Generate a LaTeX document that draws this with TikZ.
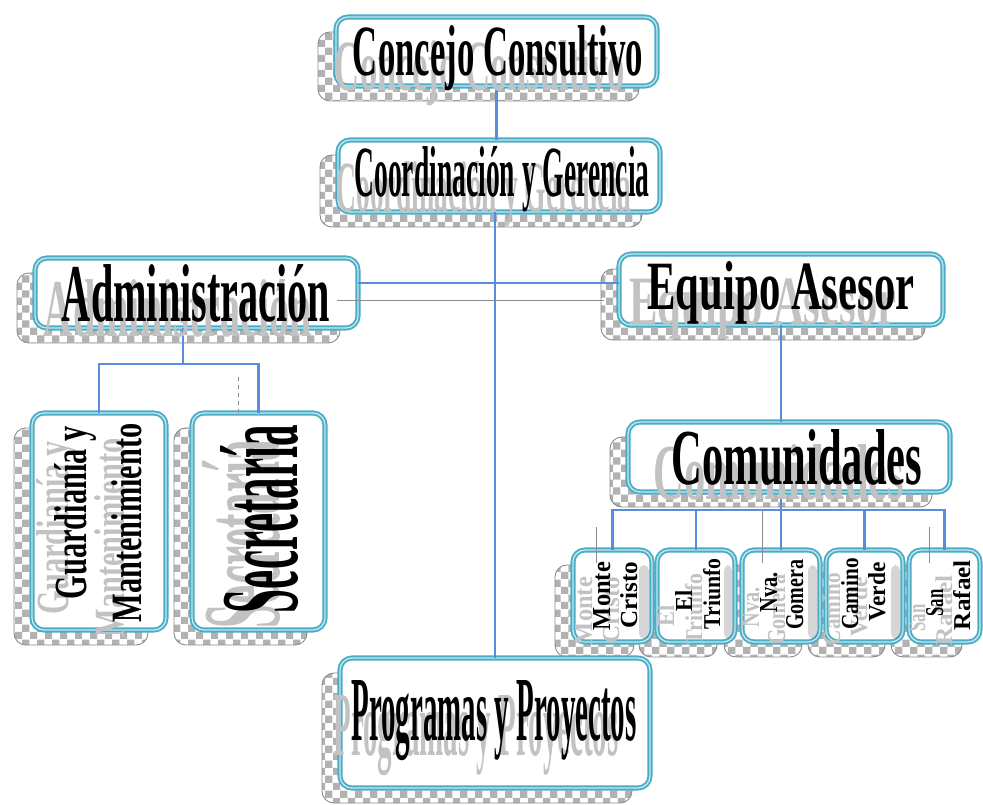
\documentclass[tikz,border=0pt]{standalone}
\usepackage{fontspec}
\setmainfont{Liberation Serif}
\usepackage{graphicx}
\usetikzlibrary{backgrounds,patterns}
\definecolor{boxblue}{RGB}{75,172,198}
\definecolor{boxinner}{RGB}{195,232,242}
\definecolor{connblue}{RGB}{88,140,222}
\newlength\upx \setlength\upx{0.75pt}
\newcommand\fitT[3]{\resizebox{#1\upx}{#2\upx}{\bfseries #3}}
\newcommand\ghostlbl[7]{\node[ghosttxt,rotate=#6] (#1-g) at (#2-18,#3+15) {\fitT{#4}{#5}{#7}};}
\newcommand\mainlbl[7]{\node[maintxt,rotate=#6] (#1) at (#2,#3) {\fitT{#4}{#5}{#7}};}
\newcommand\alllabels[1]{%
  #1{cct}{498}{76}{290}{50}{0}{Concejo Consultivo}
  #1{cgt}{502}{197}{295}{50}{0}{Coordinación y Gerencia}
  #1{admt}{196}{322}{268}{57}{0}{Administración}
  #1{eqt}{781}{310}{267}{48}{0}{Equipo Asesor}
  #1{comt}{797}{485}{251}{55}{0}{Comunidades}
  #1{ppt}{494}{740}{285}{60}{0}{Programas y Proyectos}
  #1{gmta}{87}{513}{173}{32}{90}{Guardianía y}
  #1{gmtb}{142}{523}{199}{30}{90}{Mantenimiento}
  #1{sect}{297}{519}{188}{77}{90}{Secretaría}
  #1{mcta}{610}{596}{68}{17}{90}{Monte}
  #1{mctb}{637}{595}{67}{17}{90}{Cristo}
  #1{etta}{692}{601}{21}{17}{90}{El}
  #1{ettb}{720}{594}{71}{17}{90}{Triunfo}
  #1{ngta}{777}{592}{40}{17}{90}{Nva.}
  #1{ngtb}{803}{595}{70}{17}{90}{Gomera}
  #1{cvta}{858}{594}{72}{17}{90}{Camino}
  #1{cvtb}{885}{592}{59}{17}{90}{Verde}
  #1{srta}{943}{603}{27}{17}{90}{San}
  #1{srtb}{970}{595}{70}{17}{90}{Rafael}
}
\newcommand\mkbox[5]{\node[orgbox, minimum width=#4\upx, minimum height=#5\upx] (#1) at (#2,#3) {};}
\tikzset{
  orgbox/.style={draw=boxblue, line width=1.4pt, double=boxinner, double distance=1pt,
    fill=white, rounded corners=9pt, inner sep=0pt, outer sep=0pt},
  shadowbox/.style={pattern=checkerboard, pattern color=black!30, draw=black!45,
    line width=0.7pt, rounded corners=9pt},
  conn/.style={draw=connblue, line width=1.6pt},
  gline/.style={draw=black!45, line width=0.6pt},
  band/.style={fill=black, fill opacity=0.16, rounded corners=4pt},
  ghosttxt/.style={text=black!24, inner sep=0pt, anchor=base},
  maintxt/.style={text=black, inner sep=0pt, anchor=base},
}
\begin{document}
\begin{tikzpicture}[x=0.75pt,y=-0.75pt]
\useasboundingbox (0,0) rectangle (983,805);
% boxes
\mkbox{cc}{496.5}{51.5}{321}{69}
\mkbox{cg}{499}{176}{322}{72}
\mkbox{adm}{196.5}{293}{323}{70}
\mkbox{eq}{781}{289.5}{324}{71}
\mkbox{gm}{99}{521.5}{134}{217}
\mkbox{sec}{258.5}{521.5}{133}{217}
\mkbox{com}{789}{457}{322}{70}
\mkbox{mc}{612.5}{596}{79}{92}
\mkbox{et}{696}{596}{78}{92}
\mkbox{ng}{781}{596}{78}{92}
\mkbox{cv}{864.5}{596}{77}{92}
\mkbox{sr}{944.5}{596}{71}{92}
\mkbox{pp}{495}{723}{310}{130}
% shadows
\begin{scope}[on background layer]
\foreach \b in {cc,cg,adm,eq,gm,sec,com,mc,et,ng,cv,sr,pp}
  \draw[shadowbox] ([shift={(-18,15)}]\b.south west) rectangle ([shift={(-18,15)}]\b.north east);
\end{scope}
% overlapping shadow tint on small boxes
\foreach \p/\n in {mc/et,et/ng,ng/cv,cv/sr}
  \fill[band] ([shift={(-18,15)}]\n.north west) rectangle ([shift={(-3,-3)}]\p.south east);
% connectors
\draw[conn] (cc.south) -- (cc.south |- cg.north);
\draw[conn] (pp.north |- cg.south) -- (pp.north);
\draw[conn] ([yshift=7.5pt]adm.east) -- ([yshift=7.5pt]adm.east -| eq.west);
\draw[conn] ([xshift=-10pt]adm.south) -- ++(0,36) -| (gm.north);
\draw[conn] ([xshift=-10pt]adm.south) -- ++(0,36) -| (sec.north);
\draw[conn] (eq.south) -- (eq.south |- com.north);
\draw[conn] (eq.south |- com.south) -- ++(0,18) coordinate (cb);
\foreach \c in {mc,et,ng,cv,sr} \draw[conn] (cb) -| (\c.north);
% faint grey guide lines
\coordinate (ga) at (337,300); \coordinate (gb) at (604,300);
\draw[gline] (ga) -- (gb);
\coordinate (s1) at (238,377); \coordinate (s2) at (238,417);
\draw[gline, dashed] (s1) -- (s2);
\coordinate (v1a) at (596,527); \coordinate (v1b) at (596,563);
\coordinate (v2a) at (762,510); \coordinate (v2b) at (762,563);
\coordinate (v3a) at (929,527); \coordinate (v3b) at (929,563);
\draw[gline] (v1a) -- (v1b);
\draw[gline] (v2a) -- (v2b);
\draw[gline] (v3a) -- (v3b);
% texts
\alllabels\ghostlbl
\alllabels\mainlbl
\end{tikzpicture}
\end{document}
